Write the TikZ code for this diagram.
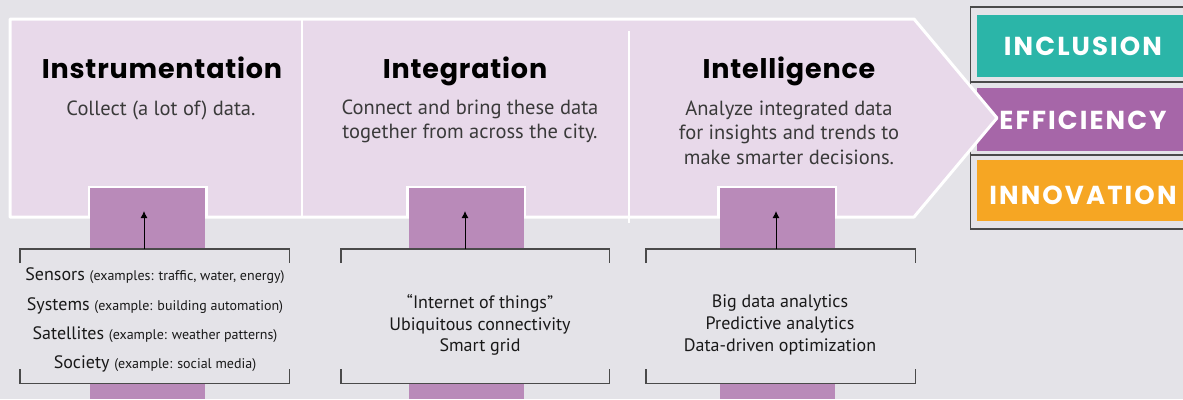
\documentclass[tikz,border=0pt]{standalone}
\usepackage{fontspec}
\setmainfont{PT Sans}
\newfontfamily\headfont{Poppins}[LetterSpace=3]
\newfontfamily\capfont{Poppins}[LetterSpace=8]
\usetikzlibrary{arrows.meta}
\definecolor{bgc}{HTML}{E4E3E8}
\definecolor{arrowc}{HTML}{E8D9EA}
\definecolor{tabc}{HTML}{B98AB9}
\definecolor{inclc}{HTML}{2BB5A8}
\definecolor{effc}{HTML}{A666A8}
\definecolor{innc}{HTML}{F6A623}
\definecolor{bodyc}{HTML}{3A3A3A}
\definecolor{framec}{HTML}{4A4A4A}
\tikzset{
  title/.style={anchor=base, inner sep=0pt, font=\headfont\bfseries\fontsize{27}{31}\selectfont, text=black},
  desc/.style={anchor=base, inner sep=0pt, font=\fontsize{20.5}{24}\selectfont, text=bodyc},
  item/.style={anchor=base, inner sep=0pt, font=\fontsize{18}{22}\selectfont, text=black!90},
  tabbox/.style={fill=tabc, draw=none, inner sep=0pt, anchor=north west, minimum width=115pt, minimum height=211pt},
  tabedge/.style={draw=white, line width=2.5pt},
  bracketbox/.style={fill=bgc, draw=none, inner sep=0pt, anchor=north west, minimum height=134pt},
  bracketline/.style={draw=framec, line width=1.1pt},
  uparrow/.style={draw=black, line width=1pt, -{Latex[length=7pt,width=7pt]}},
  valuebox/.style={inner sep=0pt, anchor=north west, minimum width=206pt, minimum height=62pt},
  valuetext/.style={anchor=base, text=white, inner sep=0pt, font=\capfont\bfseries\fontsize{26}{30}\selectfont},
}
\begin{document}
\begin{tikzpicture}[x=1pt,y=-1pt]
\fill[bgc] (0,0) rectangle (1183,399);
\useasboundingbox (0,0) rectangle (1183,399);
% right frame
\draw[framec, line width=1.5pt] (1183,7) -- (970.5,7) -- (970.5,229) -- (1183,229);
\node[valuebox, fill=inclc] (incl) at (977,15) {};
\node[valuebox, fill=effc, minimum height=63pt] (eff) at (977,88) {};
\node[valuebox, fill=innc, minimum height=61pt] (inn) at (977,160) {};
\draw[framec, line width=1.5pt] (970.5,82) -- (1183,82);
\draw[framec, line width=1.2pt] (970.5,155) -- (1183,155);
% big arrow
\draw[white, line width=3pt, fill=arrowc, line join=round] (10,19) -- (914,19) -- (997,118) -- (914,217) -- (10,217) -- cycle;
\draw[white, line width=2.5pt] (302,20) -- (302,216);
\draw[white, line width=2pt] (629,31) -- (629,223);
% value texts
\node[valuetext] (tincl) at (1083,55) {INCLUSION};
\node[valuetext] (teff) at (1083,129) {EFFICIENCY};
\node[valuetext] (tinn) at (1083,204) {INNOVATION};
% titles
\node[title] (h1) at (162,78) {Instrumentation};
\node[title] (h2) at (465,78) {Integration};
\node[title] (h3) at (789,78) {Intelligence};
\node[desc] (d1) at (161,115) {Collect (a lot of) data.};
\node[desc] (d2a) at (470,114) {Connect and bring these data};
\node[desc] (d2b) at (470,138) {together from across the city.};
\node[desc] (d3a) at (789,115) {Analyze integrated data};
\node[desc] (d3b) at (789,139) {for insights and trends to};
\node[desc] (d3c) at (789,164) {make smarter decisions.};
% tabs
\node[tabbox] (tab1) at (90,188) {};
\node[tabbox] (tab2) at (408.5,188) {};
\node[tabbox] (tab3) at (719.5,188) {};
\foreach \t in {tab1,tab2,tab3}{
  \draw[tabedge] ([xshift=-1.2pt,yshift=-29pt]\t.north west) -- ([xshift=-1.2pt,yshift=1.2pt]\t.north west) -- ([xshift=1.2pt,yshift=1.2pt]\t.north east) -- ([xshift=1.2pt,yshift=-29pt]\t.north east);
}
% brackets
\node[bracketbox, minimum width=269pt] (b1) at (20,249) {};
\node[bracketbox, minimum width=268pt] (b2) at (341,249) {};
\node[bracketbox, minimum width=269pt] (b3) at (646,249) {};
\foreach \b in {b1,b2,b3}{
  \draw[bracketline] ([yshift=-14pt]\b.north west) -- (\b.north west) -- (\b.north east) -- ([yshift=-14pt]\b.north east);
  \draw[bracketline] ([yshift=14pt]\b.south west) -- (\b.south west) -- (\b.south east) -- ([yshift=14pt]\b.south east);
}
% arrows
\coordinate (a1s) at (144,249); \coordinate (a1e) at (144,211);
\coordinate (a2s) at (465,249); \coordinate (a2e) at (465,211);
\coordinate (a3s) at (776,249); \coordinate (a3e) at (776,211);
\draw[uparrow] (a1s) -- (a1e);
\draw[uparrow] (a2s) -- (a2e);
\draw[uparrow] (a3s) -- (a3e);
% bracket texts
\node[item] (i1a) at (155,280) {Sensors {\fontsize{14}{16}\selectfont(examples: traffic, water, energy)}};
\node[item] (i1b) at (155,310) {Systems {\fontsize{14}{16}\selectfont(example: building automation)}};
\node[item] (i1c) at (155,339) {Satellites {\fontsize{14}{16}\selectfont(example: weather patterns)}};
\node[item] (i1d) at (155,368) {Society {\fontsize{14}{16}\selectfont(example: social media)}};
\node[item] (i2a) at (480,308) {“Internet of things”};
\node[item] (i2b) at (480,330) {Ubiquitous connectivity};
\node[item] (i2c) at (480,351) {Smart grid};
\node[item] (i3a) at (780,307) {Big data analytics};
\node[item] (i3b) at (780,329) {Predictive analytics};
\node[item] (i3c) at (780,351) {Data-driven optimization};
\end{tikzpicture}
\end{document}
